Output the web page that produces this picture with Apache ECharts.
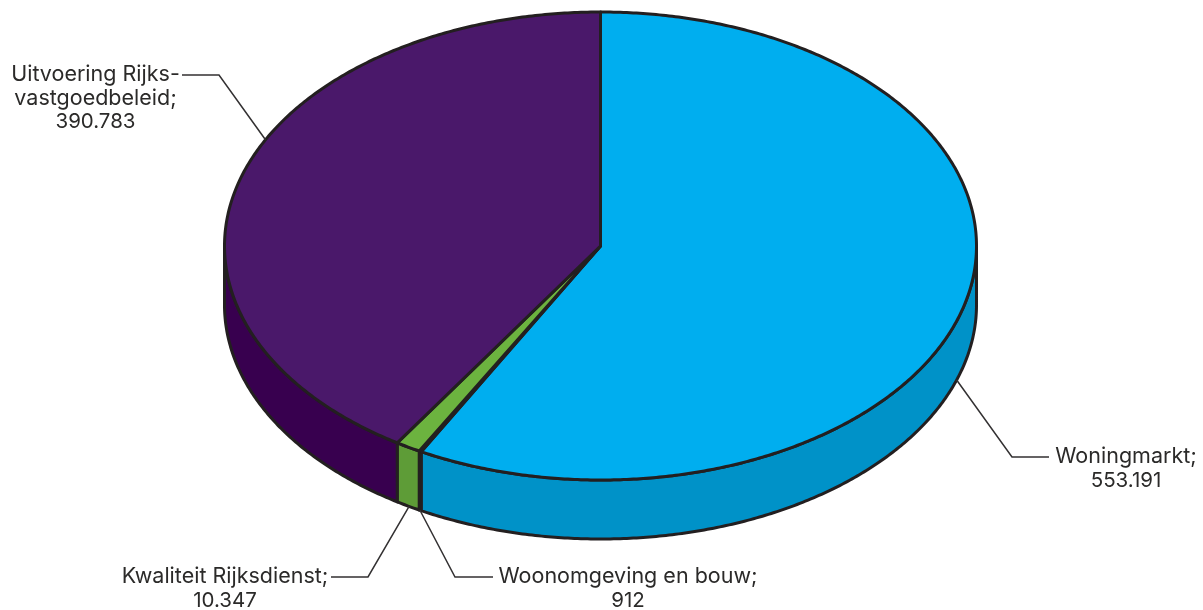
<!DOCTYPE html>
<html>
<head>
<meta charset="utf-8">
<style>html,body{margin:0;padding:0;background:#fff}#c{width:1203px;height:610px}</style>
<script src="https://cdn.jsdelivr.net/npm/echarts@6/dist/echarts.min.js"></script>
</head>
<body>
<div id="c"></div>
<script>
// Data, clockwise from 12 o'clock
const categories = ['Woningmarkt', 'Woonomgeving en bouw', 'Kwaliteit Rijksdienst', 'Uitvoering Rijksvastgoedbeleid'];
const values = [553191, 912, 10347, 390783];
const labelNames = [['Woningmarkt;'], ['Woonomgeving en bouw;'], ['Kwaliteit Rijksdienst;'], ['Uitvoering Rijks-', 'vastgoedbeleid;']];

// Styles
const topColors = ['#00AEEF', '#231F20', '#6CB33F', '#4A186A'];
const sideColors = ['#0092C8', '#231F20', '#5E9C37', '#38004F'];

// Layout
const CX = 600.5, CY = 246, RX = 376, RY = 234, DEPTH = 59;
const leaderAngles = [108.7, 208.7, 210.6, 297];   // where the leader touches the pie
const leaderOnSide = [true, true, true, false];
const elbows = [[1012, 457, 1049], [455, 577, 493], [368, 577, 331], [219, 75, 182]];
const labelPos = [[1126, 457], [628, 577], [225, 577], [95.5, 75]];
const LINE_STEP = 23.5;

const total = values.reduce((a, b) => a + b, 0);
const starts = [];
values.reduce((acc, v, i) => { starts[i] = acc; return acc + v; }, 0);
const toDeg = v => v / total * 360;
const pt = (deg, dy) => {
  const r = deg * Math.PI / 180;
  return [CX + RX * Math.sin(r), CY - RY * Math.cos(r) + (dy || 0)];
};
const arc = (a, b, dy) => {
  const out = [], n = Math.max(2, Math.ceil(Math.abs(b - a) * 2));
  for (let i = 0; i <= n; i++) out.push(pt(a + (b - a) * i / n, dy));
  return out;
};
const fmt = v => String(v).replace(/\B(?=(\d{3})+$)/g, '.');
const lineStyle = { stroke: '#231F20', lineWidth: 3, lineJoin: 'round' };

function renderSide(params) {
  const i = params.dataIndex;
  const a = Math.max(toDeg(starts[i]), 90), b = Math.min(toDeg(starts[i] + values[i]), 270);
  if (b <= a) return null;
  return {
    type: 'polygon',
    shape: { points: arc(a, b, 0).concat(arc(b, a, DEPTH)) },
    style: Object.assign({ fill: sideColors[i] }, lineStyle)
  };
}
function renderTop(params) {
  const i = params.dataIndex;
  const a = toDeg(starts[i]), b = toDeg(starts[i] + values[i]);
  return {
    type: 'polygon',
    shape: { points: [[CX, CY]].concat(arc(a, b, 0)) },
    style: Object.assign({ fill: topColors[i] }, lineStyle)
  };
}
function textLine(x, y, text, size) {
  return {
    type: 'text',
    style: {
      x, y, text,
      align: 'center', verticalAlign: 'middle',
      font: size + 'px Inter, "Liberation Sans", sans-serif',
      fill: '#2B2A29'
    }
  };
}
function renderLabel(params) {
  const i = params.dataIndex;
  const e = elbows[i];
  const anchor = pt(leaderAngles[i], leaderOnSide[i] ? DEPTH : 0);
  const [lx, ly] = labelPos[i];
  const names = labelNames[i];
  return {
    type: 'group',
    children: [
      {
        type: 'polyline',
        shape: { points: [anchor, [e[0], e[1]], [e[2], e[1]]] },
        style: { stroke: '#333132', lineWidth: 1.5, fill: null }
      }
    ].concat(
      names.map((t, k) => textLine(lx, ly + k * LINE_STEP, t, 21.5)),
      [textLine(lx, ly + names.length * LINE_STEP, fmt(values[i]), 20.5)]
    )
  };
}

const data = categories.map((name, i) => ({ name, value: values[i] }));
const chart = echarts.init(document.getElementById('c'), null, { renderer: 'canvas' });
chart.setOption({
  animation: false,
  backgroundColor: '#fff',
  series: [
    { type: 'custom', coordinateSystem: 'none', z: 1, silent: true, data, renderItem: renderSide },
    { type: 'custom', coordinateSystem: 'none', z: 2, silent: true, data, renderItem: renderTop },
    { type: 'custom', coordinateSystem: 'none', z: 3, silent: true, data, renderItem: renderLabel }
  ]
});
</script>
</body>
</html>
